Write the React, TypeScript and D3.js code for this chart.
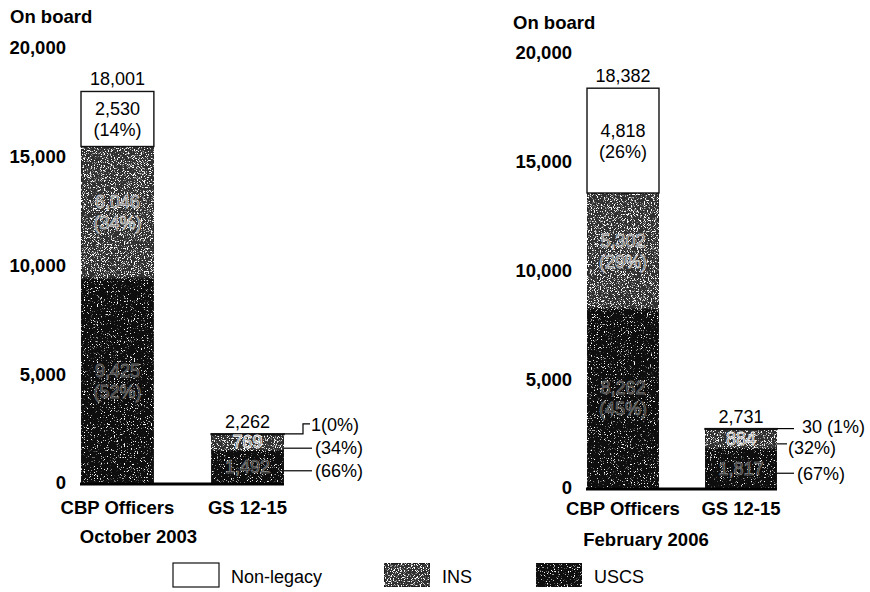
import React from "react";
import * as d3 from "d3";

// ---------- data ----------
const categories = ["CBP Officers", "GS 12-15"];
const periods = ["October 2003", "February 2006"];
const seriesNames = ["Non-legacy", "INS", "USCS"];
const yTicks = [0, 5000, 10000, 15000, 20000];

const uscs2003 = [9425, 1492];
const ins2003 = [6046, 769];
const nonLegacy2003 = [2530, 1];
const uscsPct2003 = [52, 66];
const insPct2003 = [34, 34];
const nonLegacyPct2003 = [14, 0];

const uscs2006 = [8262, 1817];
const ins2006 = [5302, 884];
const nonLegacy2006 = [4818, 30];
const uscsPct2006 = [45, 67];
const insPct2006 = [29, 32];
const nonLegacyPct2006 = [26, 1];

// ---------- layout ----------
const W = 870;
const H = 592;
const FONT = "'Liberation Sans', Arial, Helvetica, sans-serif";
const FS = 18;
const FSB = 18.5;
const fmt = d3.format(",");

type Panel = {
  period: string;
  uscs: number[];
  ins: number[];
  non: number[];
  uscsPct: number[];
  insPct: number[];
  nonPct: number[];
  xRange: [number, number];
  padInner: number;
  y0: number;
  tickX: number;
  titleX: number;
  titleY: number;
  catDy: number;
  periodDx: number;
  periodDy: number;
  side: "left" | "right";
};

const panels: Panel[] = [
  {
    period: periods[0],
    uscs: uscs2003,
    ins: ins2003,
    non: nonLegacy2003,
    uscsPct: uscsPct2003,
    insPct: insPct2003,
    nonPct: nonLegacyPct2003,
    xRange: [81, 284],
    padInner: 0.44,
    y0: 483,
    tickX: 66,
    titleX: 10,
    titleY: 23,
    catDy: 31,
    periodDx: 21,
    periodDy: 60,
    side: "left",
  },
  {
    period: periods[1],
    uscs: uscs2006,
    ins: ins2006,
    non: nonLegacy2006,
    uscsPct: uscsPct2006,
    insPct: insPct2006,
    nonPct: nonLegacyPct2006,
    xRange: [587, 777],
    padInner: 0.39,
    y0: 488,
    tickX: 572,
    titleX: 513,
    titleY: 29,
    catDy: 27,
    periodDx: 23,
    periodDy: 58,
    side: "right",
  },
];

const fills: Record<string, string> = {
  "Non-legacy": "#ffffff",
  INS: "#303030",
  USCS: "#0e0e0e",
};
const filters: Record<string, string> = {
  "Non-legacy": "",
  INS: "url(#speckleIns)",
  USCS: "url(#speckleUscs)",
};

function Speckle({ id, a, b, seed }: { id: string; a: number; b: number; seed: number }) {
  return (
    <filter id={id} x="0" y="0" width="100%" height="100%" colorInterpolationFilters="sRGB">
      <feTurbulence type="fractalNoise" baseFrequency="1.3" numOctaves={1} seed={seed} result="noise" />
      <feColorMatrix
        in="noise"
        type="matrix"
        values={`0 0 0 0 1  0 0 0 0 1  0 0 0 0 1  ${a} 0 0 0 ${b}`}
        result="specks"
      />
      <feComposite in="specks" in2="SourceGraphic" operator="in" result="clipped" />
      <feMerge>
        <feMergeNode in="SourceGraphic" />
        <feMergeNode in="clipped" />
      </feMerge>
    </filter>
  );
}

function PanelView({ p }: { p: Panel }) {
  const x = d3.scaleBand<string>().domain(categories).range(p.xRange).paddingInner(p.padInner).paddingOuter(0);
  const y = d3.scaleLinear().domain([0, 20000]).range([p.y0, p.y0 - 435]);
  const bw = x.bandwidth();

  const rows = categories.map((c, i) => ({
    cat: c,
    i,
    NonLegacy: p.non[i],
    INS: p.ins[i],
    USCS: p.uscs[i],
  }));
  const stack = d3.stack<any>().keys(["USCS", "INS", "NonLegacy"])(rows);
  const keyName: Record<string, string> = { USCS: "USCS", INS: "INS", NonLegacy: "Non-legacy" };

  const gs = 1;
  const gsX1 = (x(categories[gs]) as number) + bw;
  const gsTotal = p.uscs[gs] + p.ins[gs] + p.non[gs];
  const yTop = y(gsTotal);
  const insMid = y(p.uscs[gs] + p.ins[gs] / 2);
  const uscsMid = y(p.uscs[gs] / 2);

  const cbpC = (x(categories[0]) as number) + bw / 2;

  const stroked = {
    fill: "none",
    stroke: "#000",
    strokeWidth: 1.2,
  };

  return (
    <g>
      <text x={p.titleX} y={p.titleY} fontWeight="bold" fontSize={FSB} fontFamily={FONT}>
        On board
      </text>
      {yTicks.map((t) => (
        <text
          key={t}
          x={p.tickX}
          y={y(t)}
          dy="0.35em"
          textAnchor="end"
          fontWeight="bold"
          fontSize={FSB}
          fontFamily={FONT}
        >
          {fmt(t)}
        </text>
      ))}

      {stack.map((layer) =>
        layer.map((d, i) => {
          const name = keyName[layer.key];
          const x0 = x(categories[i]) as number;
          const h = Math.max(y(d[0]) - y(d[1]), 0.8);
          return (
            <rect
              key={layer.key + i}
              x={x0}
              y={y(d[1])}
              width={bw}
              height={h}
              fill={fills[name]}
              filter={filters[name] || undefined}
              stroke={name === "Non-legacy" ? "#111" : "#1a1a1a"}
              strokeWidth={name === "Non-legacy" ? 1.4 : 1}
            />
          );
        })
      )}

      {/* baseline */}
      <line
        x1={p.xRange[0] - 1}
        x2={p.xRange[1]}
        y1={p.y0 + 1}
        y2={p.y0 + 1}
        stroke="#000"
        strokeWidth={3}
      />

      {/* totals */}
      {categories.map((c, i) => {
        const tot = p.uscs[i] + p.ins[i] + p.non[i];
        return (
          <text
            key={"t" + c}
            x={(x(c) as number) + bw / 2}
            y={y(tot) - 6}
            textAnchor="middle"
            fontSize={FS}
            fontFamily={FONT}
          >
            {fmt(tot)}
          </text>
        );
      })}

      {/* CBP inner labels */}
      {(() => {
        const segs = [
          { lo: p.uscs[0] + p.ins[0], v: p.non[0], pct: p.nonPct[0], kind: "Non-legacy" },
          { lo: p.uscs[0], v: p.ins[0], pct: p.insPct[0], kind: "INS" },
          { lo: 0, v: p.uscs[0], pct: p.uscsPct[0], kind: "USCS" },
        ];
        return segs.map((s) => {
          const mid = y(s.lo + s.v / 2);
          const white = s.kind === "Non-legacy";
          const style = white
            ? { fill: "#000" }
            : {
                fill: s.kind === "INS" ? "#3a3a3a" : "#1a1a1a",
                stroke: "#fff",
                strokeWidth: 0.8,
                strokeOpacity: s.kind === "INS" ? 0.8 : 0.4,
              };
          return (
            <g key={"in" + s.kind} fontSize={FS} fontFamily={FONT} textAnchor="middle">
              <text x={cbpC} y={mid - 4} {...style}>
                {fmt(s.v)}
              </text>
              <text x={cbpC} y={mid + 17} {...style}>
                ({s.pct}%)
              </text>
            </g>
          );
        });
      })()}

      {/* GS inner labels */}
      <g fontSize={FS} fontFamily={FONT} textAnchor="middle">
        <text x={gsX1 - bw / 2} y={insMid} dy="0.35em" fill="#444" stroke="#fff" strokeWidth={0.8}>
          {fmt(p.ins[gs])}
        </text>
        <text
          x={gsX1 - bw / 2}
          y={uscsMid}
          dy="0.35em"
          fill="#1a1a1a"
          stroke="#fff"
          strokeWidth={0.7}
          strokeOpacity={0.5}
        >
          {fmt(p.uscs[gs])}
        </text>
      </g>

      {/* GS callouts */}
      {p.side === "left" ? (
        <g fontSize={FS} fontFamily={FONT}>
          <path d={`M${gsX1},${yTop} H${gsX1 + 19} V${yTop - 10} H${gsX1 + 26}`} {...stroked} />
          <text x={gsX1 + 27} y={yTop - 9} dy="0.35em">
            {`${p.non[gs]}(${p.nonPct[gs]}%)`}
          </text>
          <path d={`M${gsX1},${insMid + 6} H${gsX1 + 28}`} {...stroked} />
          <text x={gsX1 + 31} y={insMid + 6} dy="0.35em">{`(${p.insPct[gs]}%)`}</text>
          <path d={`M${gsX1},${uscsMid + 4} H${gsX1 + 28}`} {...stroked} />
          <text x={gsX1 + 31} y={uscsMid + 4} dy="0.35em">{`(${p.uscsPct[gs]}%)`}</text>
        </g>
      ) : (
        <g fontSize={FS} fontFamily={FONT}>
          <path d={`M${gsX1},${yTop} H${gsX1 + 17}`} {...stroked} />
          <text x={gsX1 + 25} y={yTop - 2} dy="0.35em">
            {`${p.non[gs]} (${p.nonPct[gs]}%)`}
          </text>
          <path d={`M${gsX1},${insMid + 5} H${gsX1 + 10}`} {...stroked} />
          <text x={gsX1 + 11} y={insMid + 9} dy="0.35em">{`(${p.insPct[gs]}%)`}</text>
          <path d={`M${gsX1},${uscsMid + 5} H${gsX1 + 17}`} {...stroked} />
          <text x={gsX1 + 20} y={uscsMid + 5} dy="0.35em">{`(${p.uscsPct[gs]}%)`}</text>
        </g>
      )}

      {/* category labels */}
      {categories.map((c) => (
        <text
          key={"c" + c}
          x={(x(c) as number) + bw / 2}
          y={p.y0 + p.catDy}
          textAnchor="middle"
          fontWeight="bold"
          fontSize={FSB}
          fontFamily={FONT}
        >
          {c}
        </text>
      ))}
      <text
        x={cbpC + p.periodDx}
        y={p.y0 + p.periodDy}
        textAnchor="middle"
        fontWeight="bold"
        fontSize={FSB}
        fontFamily={FONT}
      >
        {p.period}
      </text>
    </g>
  );
}

const legendX = [173, 384, 536];

export default function App() {
  return (
    <svg
      width={W}
      height={H}
      viewBox={`0 0 ${W} ${H}`}
      style={{ position: "absolute", left: 0, top: 0, background: "#fff" }}
    >
      <defs>
        <Speckle id="speckleIns" a={10} b={-5.4} seed={4} />
        <Speckle id="speckleUscs" a={10} b={-6.1} seed={9} />
      </defs>
      <rect x={0} y={0} width={W} height={H} fill="#fff" />
      {panels.map((p) => (
        <PanelView key={p.period} p={p} />
      ))}
      <g>
        {seriesNames.map((s, i) => (
          <g key={s}>
            <rect
              x={legendX[i]}
              y={563}
              width={46}
              height={24}
              fill={fills[s]}
              filter={filters[s] || undefined}
              stroke="#111"
              strokeWidth={1.2}
            />
            <text x={legendX[i] + 58} y={583} fontSize={FS} fontFamily={FONT}>
              {s}
            </text>
          </g>
        ))}
      </g>
    </svg>
  );
}
